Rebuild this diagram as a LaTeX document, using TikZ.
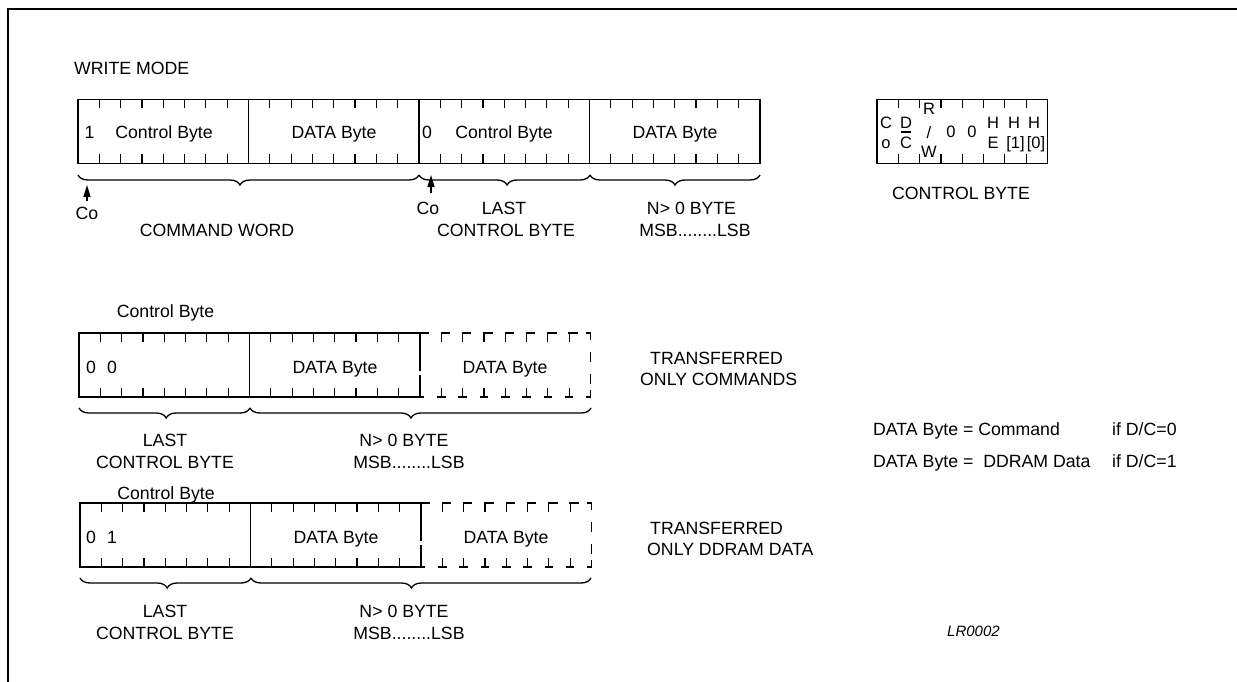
\documentclass[tikz,border=0pt]{standalone}
\usepackage{fontspec}
\setmainfont{Liberation Sans}
\usetikzlibrary{arrows.meta,decorations.pathreplacing}
\newcommand\bitw{21.3125}
\tikzset{
  boxline/.style={line width=1.5pt, line cap=rect},
  tickline/.style={line width=1.2pt},
  txt/.style={font=\fontsize{17.7}{21}\selectfont, inner sep=0pt, text height=12.7pt, text depth=0pt},
  cbtxt/.style={font=\fontsize{16.5}{19}\selectfont, inner sep=0pt, text height=11.8pt, text depth=0pt},
  bracesty/.style={decorate, line width=1.3pt, decoration={brace, mirror, amplitude=10pt, aspect=#1}},
  bracesty/.default=0.5,
  coarrow/.style={line width=1.4pt, -{Triangle[length=12pt,width=7pt]}},
  framesty/.style={line width=2pt},
}
\newcommand\solidbyte[2]{%
  \draw[boxline] (#1,#2) -- ++(170.5,0);
  \draw[boxline] (#1,{#2+64}) -- ++(170.5,0);
  \draw[boxline] (#1,#2) -- ++(0,64);
  \foreach \k in {1,...,7}{%
    \draw[tickline] ({#1+\k*\bitw},#2) -- ++(0,9);
    \draw[tickline] ({#1+\k*\bitw},{#2+64}) -- ++(0,-9);
  }%
}
\newcommand\dashbyte[2]{%
  \draw[line width=1.5pt, dash pattern=on 38pt off 4pt] (#1,#2) -- ++(0,64);
  \foreach \k in {0,...,7}{\draw[boxline] ({#1+\k*\bitw},#2) -- ++(8,0);}
  \foreach \k in {1,...,7}{%
    \draw[tickline] ({#1+\k*\bitw},#2) -- ++(0,9);
    \draw[tickline] ({#1+\k*\bitw},{#2+64}) -- ++(0,-9);
    \draw[boxline] ({#1+\k*\bitw-3.5},{#2+64}) -- ++(7,0);
  }%
  \draw[boxline] (#1,{#2+64}) -- ++(3,0);
  \draw[boxline] ({#1+167},#2) -- ++(3.5,0) -- ++(0,6);
  \draw[boxline] ({#1+170.5},{#2+20}) -- ++(0,8);
  \draw[boxline] ({#1+170.5},{#2+42}) -- ++(0,8);
  \draw[boxline] ({#1+167},{#2+64}) -- ++(3.5,0) -- ++(0,-6);
}
\begin{document}
\begin{tikzpicture}[x=1pt,y=-1pt]
\useasboundingbox (0,0) rectangle (1237,682);
% frame
\draw[framesty] (7.5,690) -- (7.5,9) -- (1245,9);

\node[txt,anchor=west] (wm) at (74,68) {WRITE MODE};

% ---- top row ----
\solidbyte{78}{99.5}
\solidbyte{248.5}{99.5}
\solidbyte{419}{99.5}
\solidbyte{589.5}{99.5}
\draw[boxline] (760,99.5) -- ++(0,64);
\node[txt] (t1a) at (89.5,132) {1};
\node[txt] (t1b) at (164,132) {Control Byte};
\node[txt] (t2) at (334,132) {DATA Byte};
\node[txt] (t3a) at (427,132) {0};
\node[txt] (t3b) at (504,132) {Control Byte};
\node[txt] (t4) at (675,132) {DATA Byte};

\draw[bracesty=0.475] (78,175) -- (419,175);
\draw[bracesty=0.515] (419,175) -- (590,175);
\draw[bracesty=0.5] (590,175) -- (760,175);

\node[txt] (co1) at (87,213) {Co};
\coordinate (co1base) at (87,201);
\coordinate (co1tip) at (87,185);
\draw[coarrow] (co1base) -- (co1tip);
\node[txt] (co2) at (428,208) {Co};
\coordinate (co2base) at (431,193);
\coordinate (co2tip) at (431,175);
\draw[coarrow] (co2base) -- (co2tip);

\node[txt] (cw) at (217,230) {COMMAND WORD};
\node[txt] (last1) at (504,208) {LAST};
\node[txt] (lcb1) at (506,230) {CONTROL BYTE};
\node[txt] (nb1) at (691.5,208) {N> 0 BYTE};
\node[txt] (msb1) at (695,230) {MSB........LSB};

% ---- control byte ----
\solidbyte{877}{99.5}
\draw[boxline] (1047.5,99.5) -- ++(0,64);
\node[cbtxt] (cbC) at (886,122.5) {C};
\node[cbtxt] (cbo) at (886,143) {o};
\node[cbtxt] (cbD) at (906,122.5) {D};
\node[cbtxt] (cbCb) at (906,143) {C};
\draw[line width=1.2pt] (901,132) -- (911,132);
\node[cbtxt] (cbR) at (929,109) {R};
\node[cbtxt] (cbs) at (929,133) {/};
\node[cbtxt] (cbW) at (929,152) {W};
\node[cbtxt] (cb0a) at (951,132) {0};
\node[cbtxt] (cb0b) at (972,132) {0};
\node[cbtxt] (cbH1) at (993,122.5) {H};
\node[cbtxt] (cbE) at (993,143) {E};
\node[cbtxt] (cbH2) at (1014,122.5) {H};
\node[cbtxt] (cb1) at (1015.5,143) {[1]};
\node[cbtxt] (cbH3) at (1034,122.5) {H};
\node[cbtxt] (cb0) at (1036,143) {[0]};
\node[txt] (cblab) at (961,193.5) {CONTROL BYTE};

% ---- section 2 ----
\node[txt] (s2cb) at (165.5,311.5) {Control Byte};
\solidbyte{79}{333}
\solidbyte{249.5}{333}
\dashbyte{420}{333}
\node[txt] (s2z1) at (91,367) {0};
\node[txt] (s2z2) at (112,367) {0};
\node[txt] (s2d1) at (335,367) {DATA Byte};
\node[txt] (s2d2) at (505,367) {DATA Byte};
\draw[bracesty=0.51] (79,408) -- (250,408);
\draw[bracesty=0.472] (250,408) -- (591,408);
\node[txt] (s2last) at (165,440.5) {LAST};
\node[txt] (s2lcb) at (165,462.5) {CONTROL BYTE};
\node[txt] (s2nb) at (404,440.5) {N> 0 BYTE};
\node[txt] (s2msb) at (409,462.5) {MSB........LSB};
\node[txt,anchor=west] (s2tr) at (650,358) {TRANSFERRED};
\node[txt,anchor=west] (s2oc) at (640,379) {ONLY COMMANDS};

% ---- section 3 ----
\node[txt] (s3cb) at (166,493) {Control Byte};
\solidbyte{80}{503}
\solidbyte{250.5}{503}
\dashbyte{421}{503}
\node[txt] (s3z1) at (91,537) {0};
\node[txt] (s3z2) at (112,537) {1};
\node[txt] (s3d1) at (336,537) {DATA Byte};
\node[txt] (s3d2) at (506,537) {DATA Byte};
\draw[bracesty=0.51] (80,578) -- (251,578);
\draw[bracesty=0.472] (251,578) -- (591,578);
\node[txt] (s3last) at (165,611.5) {LAST};
\node[txt] (s3lcb) at (165,633.5) {CONTROL BYTE};
\node[txt] (s3nb) at (404,611.5) {N> 0 BYTE};
\node[txt] (s3msb) at (409,633.5) {MSB........LSB};
\node[txt,anchor=west] (s3tr) at (650,528) {TRANSFERRED};
\node[txt,anchor=west] (s3od) at (647,549) {ONLY DDRAM DATA};

% ---- right notes ----
\node[txt,anchor=west] (n1a) at (873,429) {DATA Byte = Command};
\node[txt,anchor=west] (n1b) at (1112,429) {if D/C=0};
\node[txt,anchor=west] (n2a) at (873,461) {DATA Byte =\hspace{5pt} DDRAM Data};
\node[txt,anchor=west] (n2b) at (1112,461) {if D/C=1};
\node[font=\fontsize{15}{18}\selectfont\itshape, inner sep=0pt, text height=10.8pt, text depth=0pt, anchor=west] (lr) at (947,631) {LR0002};
\end{tikzpicture}
\end{document}
